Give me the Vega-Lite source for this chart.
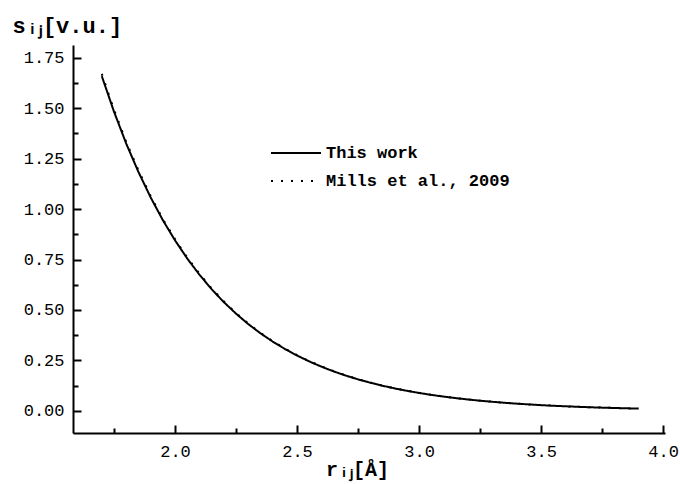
{
  "$schema": "https://vega.github.io/schema/vega-lite/v6.json",
  "width": 592,
  "height": 388,
  "autosize": {"type": "none"},
  "padding": {"left": 73, "top": 45, "right": 15, "bottom": 51},
  "background": "white",
  "config": {
    "view": {"stroke": null},
    "font": "Liberation Mono",
    "legend": {
      "title": null, "orient": "none",
      "symbolType": "stroke", "symbolSize": 2500, "symbolStrokeWidth": 2, "symbolStrokeColor": "black",
      "labelLimit": 400, "labelFont": "Liberation Mono", "labelFontSize": 17, "labelFontWeight": "bold", "labelColor": "black"
    }
  },
  "data": {"values": [
    {"r": 1.70, "This work": 1.658, "Mills": 1.669},
    {"r": 1.75, "This work": 1.482, "Mills": 1.492},
    {"r": 1.80, "This work": 1.324, "Mills": 1.333},
    {"r": 1.85, "This work": 1.184, "Mills": 1.192},
    {"r": 1.90, "This work": 1.058, "Mills": 1.065},
    {"r": 1.95, "This work": 0.945, "Mills": 0.951},
    {"r": 2.00, "This work": 0.845, "Mills": 0.851},
    {"r": 2.05, "This work": 0.755, "Mills": 0.760},
    {"r": 2.10, "This work": 0.675, "Mills": 0.680},
    {"r": 2.15, "This work": 0.603, "Mills": 0.607},
    {"r": 2.20, "This work": 0.539, "Mills": 0.543},
    {"r": 2.25, "This work": 0.482, "Mills": 0.485},
    {"r": 2.30, "This work": 0.4305, "Mills": 0.4334},
    {"r": 2.35, "This work": 0.3848, "Mills": 0.3874},
    {"r": 2.40, "This work": 0.3439, "Mills": 0.3462},
    {"r": 2.45, "This work": 0.3073, "Mills": 0.3094},
    {"r": 2.50, "This work": 0.2747, "Mills": 0.2766},
    {"r": 2.55, "This work": 0.2455, "Mills": 0.2472},
    {"r": 2.60, "This work": 0.2194, "Mills": 0.2209},
    {"r": 2.65, "This work": 0.1961, "Mills": 0.1974},
    {"r": 2.70, "This work": 0.1752, "Mills": 0.1764},
    {"r": 2.75, "This work": 0.1566, "Mills": 0.1577},
    {"r": 2.80, "This work": 0.1400, "Mills": 0.1410},
    {"r": 2.85, "This work": 0.1251, "Mills": 0.1260},
    {"r": 2.90, "This work": 0.1118, "Mills": 0.1126},
    {"r": 2.95, "This work": 0.0999, "Mills": 0.1006},
    {"r": 3.00, "This work": 0.0893, "Mills": 0.0899},
    {"r": 3.05, "This work": 0.0798, "Mills": 0.0803},
    {"r": 3.10, "This work": 0.0713, "Mills": 0.0718},
    {"r": 3.15, "This work": 0.0637, "Mills": 0.0641},
    {"r": 3.20, "This work": 0.0570, "Mills": 0.0574},
    {"r": 3.25, "This work": 0.0509, "Mills": 0.0512},
    {"r": 3.30, "This work": 0.0455, "Mills": 0.0458},
    {"r": 3.35, "This work": 0.0407, "Mills": 0.0410},
    {"r": 3.40, "This work": 0.0363, "Mills": 0.0365},
    {"r": 3.45, "This work": 0.0325, "Mills": 0.0327},
    {"r": 3.50, "This work": 0.0290, "Mills": 0.0292},
    {"r": 3.55, "This work": 0.0259, "Mills": 0.0261},
    {"r": 3.60, "This work": 0.0232, "Mills": 0.0234},
    {"r": 3.65, "This work": 0.0207, "Mills": 0.0208},
    {"r": 3.70, "This work": 0.0185, "Mills": 0.0186},
    {"r": 3.75, "This work": 0.0166, "Mills": 0.0167},
    {"r": 3.80, "This work": 0.0148, "Mills": 0.0149},
    {"r": 3.85, "This work": 0.0132, "Mills": 0.0133},
    {"r": 3.90, "This work": 0.0118, "Mills": 0.0119}
  ]},
  "encoding": {
    "x": {
      "field": "r", "type": "quantitative",
      "scale": {"domain": [1.582, 4.008], "nice": false, "zero": false},
      "axis": {
        "values": [1.75, 2.0, 2.25, 2.5, 2.75, 3.0, 3.25, 3.5, 3.75, 4.0],
        "labelExpr": "abs(datum.value*2 - round(datum.value*2)) < 0.01 ? format(datum.value, '.1f') : ''",
        "tickSize": {"condition": {"test": "abs(datum.value*2 - round(datum.value*2)) < 0.01", "value": -8}, "value": -5},
        "tickColor": "black", "tickWidth": 2,
        "domainColor": "black", "domainWidth": 2,
        "grid": false,
        "labelFont": "Liberation Mono", "labelFontSize": 17, "labelColor": "black",
        "labelPadding": 18, "labelFlush": false, "labelOverlap": false,
        "title": "rᵢⱼ[Å]",
        "titleFont": "Liberation Mono", "titleFontSize": 20, "titleFontWeight": "bold", "titleColor": "black",
        "titleX": 284, "titleY": 42, "titleBaseline": "alphabetic", "titleAlign": "center"
      }
    },
    "y": {
      "field": "s", "type": "quantitative",
      "scale": {"domain": [-0.109, 1.812], "nice": false, "zero": false},
      "axis": {
        "values": [0, 0.125, 0.25, 0.375, 0.5, 0.625, 0.75, 0.875, 1.0, 1.125, 1.25, 1.375, 1.5, 1.625, 1.75],
        "labelExpr": "abs(datum.value*4 - round(datum.value*4)) < 0.01 ? format(datum.value, '.2f') : ''",
        "tickSize": {"condition": {"test": "abs(datum.value*4 - round(datum.value*4)) < 0.01", "value": -8}, "value": -5},
        "tickColor": "black", "tickWidth": 2,
        "domainColor": "black", "domainWidth": 2,
        "grid": false,
        "labelFont": "Liberation Mono", "labelFontSize": 17, "labelColor": "black",
        "labelPadding": 17, "labelFlush": false, "labelOverlap": false,
        "title": "sᵢⱼ[v.u.]",
        "titleFont": "Liberation Mono", "titleFontSize": 22, "titleFontWeight": "bold", "titleColor": "black",
        "titleAngle": 0, "titleAlign": "left", "titleBaseline": "alphabetic",
        "titleX": -61, "titleY": -13
      }
    }
  },
  "layer": [
    {
      "transform": [{"fold": ["This work"], "as": ["series", "s"]}],
      "mark": {"type": "line", "color": "black", "strokeWidth": 2},
      "encoding": {
        "strokeDash": {
          "field": "series", "type": "nominal",
          "scale": {"domain": ["This work"], "range": [[1, 0]]},
          "legend": {"legendX": 197, "legendY": 82}
        }
      }
    },
    {
      "transform": [{"fold": ["Mills"], "as": ["series", "s"]}],
      "mark": {"type": "line", "color": "black", "strokeWidth": 2},
      "encoding": {
        "strokeDash": {
          "field": "series", "type": "nominal",
          "scale": {"domain": ["Mills"], "range": [[2, 8]]},
          "legend": {
            "legendX": 197, "legendY": 110,
            "labelExpr": "'Mills et al., 2009'"
          }
        }
      }
    }
  ],
  "resolve": {"scale": {"strokeDash": "independent"}, "legend": {"strokeDash": "independent"}}
}
